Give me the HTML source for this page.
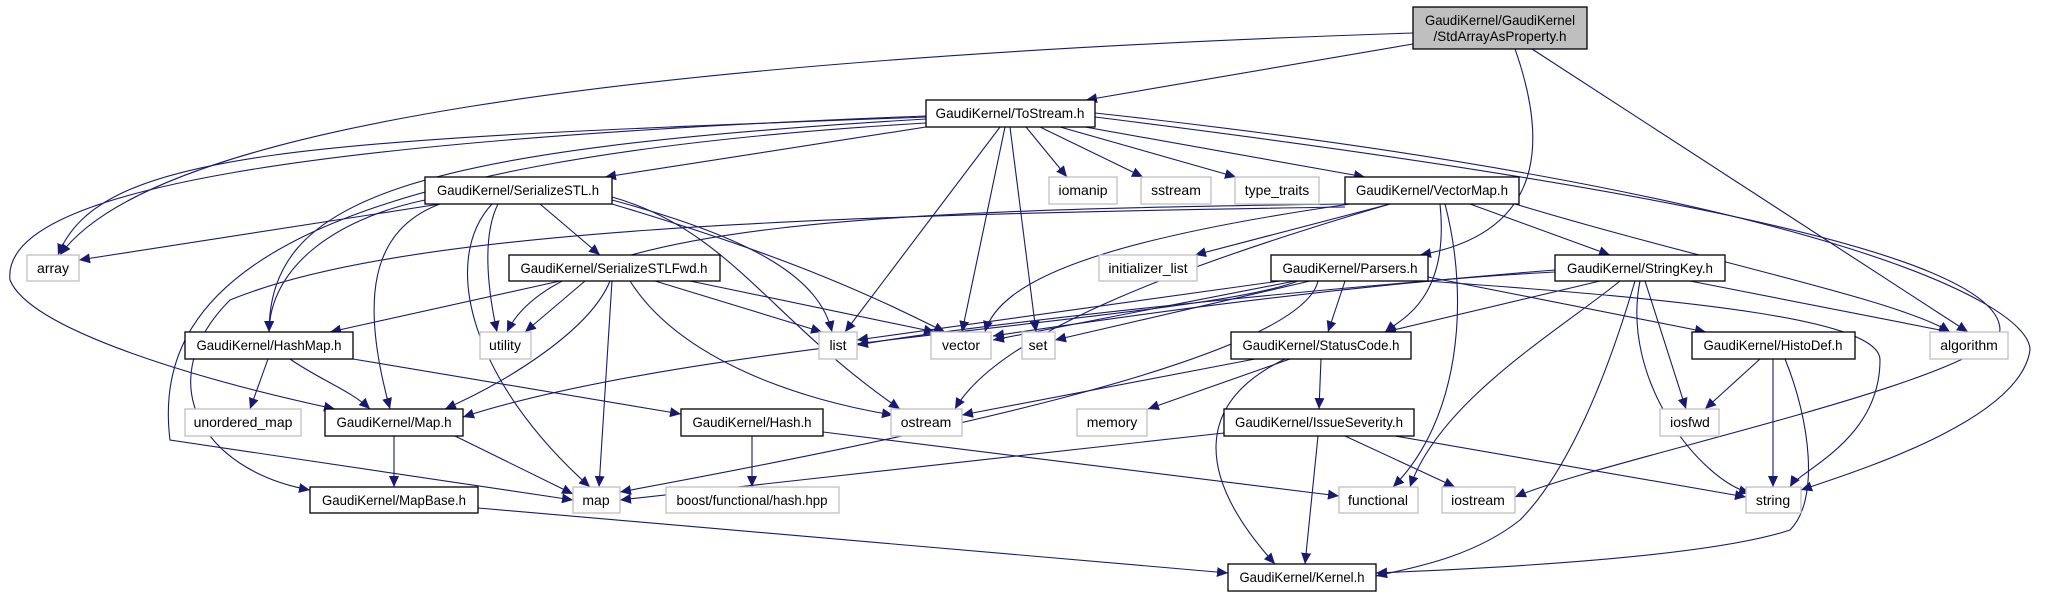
<!DOCTYPE html>
<html><head><meta charset="utf-8"><style>html,body{margin:0;padding:0;background:#fff}svg{display:block}</style></head><body>
<svg width="2052" height="597" viewBox="0 0 2052 597" xmlns="http://www.w3.org/2000/svg" font-family="Liberation Sans, sans-serif" font-size="14">
<defs><marker id="a" markerUnits="userSpaceOnUse" markerWidth="12" markerHeight="10" refX="11" refY="5" orient="auto"><path d="M0,0 L11,5 L0,10 z" fill="#191970"/></marker></defs>
<g fill="none" stroke="#191970" stroke-width="1.1" marker-end="url(#a)">
<path d="M1413 44 L1086 100"/>
<path d="M1413 33 C600 60,150 130,60 255"/>
<path d="M1515 49 C1540 120,1560 230,1420 255"/>
<path d="M1532 49 L1968 332"/>
<path d="M926 117 C300 140,100 150,58 255"/>
<path d="M926 127 L605 177"/>
<path d="M926 119 C400 150,270 200,269 332"/>
<path d="M926 116 C300 140,0 190,10 280 C30 330,200 380,335 409"/>
<path d="M926 123 C300 160,150 280,170 440 L573 500"/>
<path d="M1000 127 L845 332"/>
<path d="M1005 127 L962 332"/>
<path d="M1010 127 L1036 332"/>
<path d="M1026 127 L1067 177"/>
<path d="M1040 127 L1143 177"/>
<path d="M1060 127 L1236 177"/>
<path d="M1085 127 L1365 177"/>
<path d="M1095 117 C1600 180,2000 250,2000 330 C1990 380,1600 460,1515 497"/>
<path d="M1095 113 C1800 190,2030 300,2030 350 C2020 420,1860 470,1801 490"/>
<path d="M440 204 L79 260"/>
<path d="M540 204 L600 255"/>
<path d="M425 200 C330 220,270 270,269 332"/>
<path d="M440 204 C370 230,360 300,390 409"/>
<path d="M498 204 C480 240,490 300,497 332"/>
<path d="M492 204 C440 260,470 380,590 487"/>
<path d="M612 200 C760 240,820 280,832 332"/>
<path d="M612 204 C800 260,880 300,945 332"/>
<path d="M612 197 C730 230,770 320,900 409"/>
<path d="M560 281 L330 332"/>
<path d="M610 281 C590 330,510 380,445 409"/>
<path d="M585 281 L525 332"/>
<path d="M655 281 L822 332"/>
<path d="M690 281 L935 332"/>
<path d="M612 281 L599 487"/>
<path d="M630 281 C680 360,800 400,893 415"/>
<path d="M1345 207 C800 215,400 230,230 300 C150 380,200 470,310 490"/>
<path d="M1345 204 C900 210,560 220,507 332"/>
<path d="M1350 204 C1100 240,1000 280,985 332"/>
<path d="M1390 204 L1195 255"/>
<path d="M1390 204 C1200 260,1000 330,955 409"/>
<path d="M1440 204 C1450 300,1400 320,1385 332"/>
<path d="M1445 204 C1470 300,1460 420,1393 487"/>
<path d="M1470 204 L1610 255"/>
<path d="M1515 204 C1700 260,1900 300,1950 332"/>
<path d="M1280 281 L857 340"/>
<path d="M1295 281 L993 340"/>
<path d="M1310 281 L1055 340"/>
<path d="M1298 281 C1200 320,700 340,463 417"/>
<path d="M1318 281 C1300 360,900 440,620 492"/>
<path d="M1345 281 L1328 332"/>
<path d="M1428 277 L1706 332"/>
<path d="M1425 281 C1700 300,1880 320,1880 360 C1880 440,1800 470,1790 487"/>
<path d="M1555 270 C1300 290,1100 320,993 336"/>
<path d="M1555 272 C1400 280,1000 320,857 345"/>
<path d="M1600 281 L1385 332"/>
<path d="M1690 281 L1950 332"/>
<path d="M1620 281 C1560 330,1440 400,1410 487"/>
<path d="M1645 281 L1686 409"/>
<path d="M1640 281 C1620 380,1700 480,1750 493"/>
<path d="M1635 281 C1600 400,1560 480,1520 520 C1470 560,1400 570,1376 576"/>
<path d="M268 359 L250 409"/>
<path d="M290 359 C320 380,350 390,370 409"/>
<path d="M353 359 L681 414"/>
<path d="M394 436 L394 487"/>
<path d="M455 436 L573 494"/>
<path d="M752 436 L752 487"/>
<path d="M823 432 L1339 496"/>
<path d="M478 508 L1228 573"/>
<path d="M1255 359 L962 415"/>
<path d="M1290 359 L1148 409"/>
<path d="M1321 359 L1319 409"/>
<path d="M1285 359 C1200 400,1190 470,1275 564"/>
<path d="M1224 433 L620 500"/>
<path d="M1345 436 L1455 487"/>
<path d="M1395 436 L1746 497"/>
<path d="M1318 436 L1305 564"/>
<path d="M1760 359 L1705 409"/>
<path d="M1773 359 L1773 487"/>
<path d="M1785 359 C1810 420,1820 500,1790 530 C1700 560,1450 570,1376 573"/>
</g>
<g stroke-width="1.3">
<rect x="1413" y="7" width="174" height="42" fill="#bfbfbf" stroke="#000"/>
<g fill="#fff" stroke="#000">
<rect x="926" y="100" width="169" height="27"/>
<rect x="425" y="177" width="187" height="27"/>
<rect x="509" y="255" width="211" height="26"/>
<rect x="1345" y="177" width="174" height="27"/>
<rect x="1271" y="255" width="157" height="26"/>
<rect x="1555" y="255" width="170" height="26"/>
<rect x="185" y="332" width="168" height="27"/>
<rect x="1231" y="332" width="180" height="27"/>
<rect x="1692" y="332" width="163" height="27"/>
<rect x="325" y="409" width="138" height="27"/>
<rect x="681" y="409" width="142" height="27"/>
<rect x="1224" y="409" width="190" height="27"/>
<rect x="310" y="487" width="168" height="26"/>
<rect x="1228" y="564" width="148" height="27"/>
</g>
<g fill="#fff" stroke="#bfbfbf">
<rect x="27" y="255" width="52" height="26"/>
<rect x="1049" y="177" width="68" height="27"/>
<rect x="1141" y="177" width="70" height="27"/>
<rect x="1235" y="177" width="84" height="27"/>
<rect x="1099" y="255" width="98" height="26"/>
<rect x="480" y="332" width="51" height="27"/>
<rect x="819" y="332" width="38" height="27"/>
<rect x="931" y="332" width="60" height="27"/>
<rect x="1022" y="332" width="33" height="27"/>
<rect x="1930" y="332" width="78" height="27"/>
<rect x="185" y="409" width="116" height="27"/>
<rect x="891" y="409" width="71" height="27"/>
<rect x="1077" y="409" width="70" height="27"/>
<rect x="1660" y="409" width="59" height="27"/>
<rect x="573" y="487" width="47" height="26"/>
<rect x="666" y="487" width="173" height="26"/>
<rect x="1339" y="487" width="79" height="26"/>
<rect x="1442" y="487" width="73" height="26"/>
<rect x="1746" y="487" width="55" height="26"/>
</g>
</g>
<g fill="#000" text-anchor="middle" lengthAdjust="spacingAndGlyphs">
<text x="1500" y="25" textLength="150" lengthAdjust="spacingAndGlyphs">GaudiKernel/GaudiKernel</text>
<text x="1500" y="41" textLength="133" lengthAdjust="spacingAndGlyphs">/StdArrayAsProperty.h</text>
<text x="1010" y="118" textLength="149" lengthAdjust="spacingAndGlyphs">GaudiKernel/ToStream.h</text>
<text x="518" y="195" textLength="162" lengthAdjust="spacingAndGlyphs">GaudiKernel/SerializeSTL.h</text>
<text x="614" y="273" textLength="187" lengthAdjust="spacingAndGlyphs">GaudiKernel/SerializeSTLFwd.h</text>
<text x="1432" y="195" textLength="152" lengthAdjust="spacingAndGlyphs">GaudiKernel/VectorMap.h</text>
<text x="1350" y="273" textLength="135" lengthAdjust="spacingAndGlyphs">GaudiKernel/Parsers.h</text>
<text x="1640" y="273" textLength="146" lengthAdjust="spacingAndGlyphs">GaudiKernel/StringKey.h</text>
<text x="269" y="350" textLength="145" lengthAdjust="spacingAndGlyphs">GaudiKernel/HashMap.h</text>
<text x="1321" y="350" textLength="157" lengthAdjust="spacingAndGlyphs">GaudiKernel/StatusCode.h</text>
<text x="1773" y="350" textLength="139" lengthAdjust="spacingAndGlyphs">GaudiKernel/HistoDef.h</text>
<text x="394" y="427" textLength="115" lengthAdjust="spacingAndGlyphs">GaudiKernel/Map.h</text>
<text x="752" y="427" textLength="119" lengthAdjust="spacingAndGlyphs">GaudiKernel/Hash.h</text>
<text x="1319" y="427" textLength="168" lengthAdjust="spacingAndGlyphs">GaudiKernel/IssueSeverity.h</text>
<text x="394" y="505" textLength="144" lengthAdjust="spacingAndGlyphs">GaudiKernel/MapBase.h</text>
<text x="1302" y="582" textLength="125" lengthAdjust="spacingAndGlyphs">GaudiKernel/Kernel.h</text>
<text x="53" y="273">array</text>
<text x="1083" y="195">iomanip</text>
<text x="1176" y="195">sstream</text>
<text x="1277" y="195">type_traits</text>
<text x="1148" y="273">initializer_list</text>
<text x="505" y="350">utility</text>
<text x="838" y="350">list</text>
<text x="961" y="350">vector</text>
<text x="1038" y="350">set</text>
<text x="1969" y="350">algorithm</text>
<text x="243" y="427">unordered_map</text>
<text x="926" y="427">ostream</text>
<text x="1112" y="427">memory</text>
<text x="1690" y="427">iosfwd</text>
<text x="596" y="505">map</text>
<text x="752" y="505" textLength="151" lengthAdjust="spacingAndGlyphs">boost/functional/hash.hpp</text>
<text x="1378" y="505">functional</text>
<text x="1478" y="505">iostream</text>
<text x="1773" y="505">string</text>
</g>
</svg>
</body></html>
